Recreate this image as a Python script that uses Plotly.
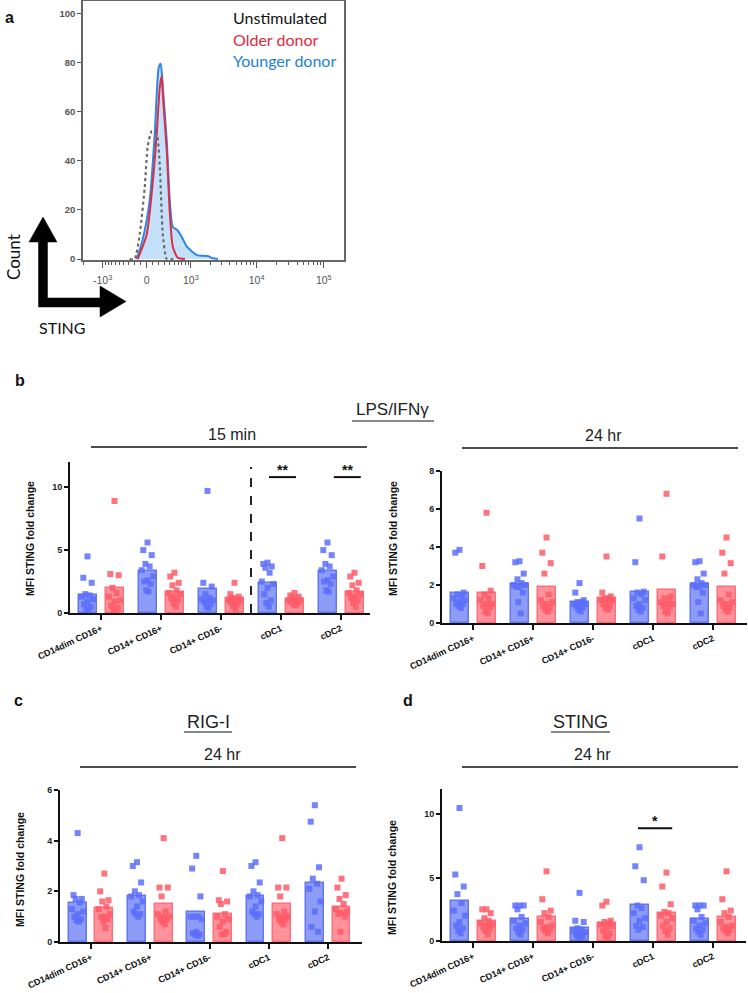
import numpy as np
import plotly.graph_objects as go

W, H = 748, 993

# ---------------- Panel a: STING histogram ----------------
unstim_v = [-286, -196, -112, -32, 16, 80, 162, 214, 268, 344, 515]
unstim_c = [0, 0, 10, 29, 46, 52, 51, 38, 10, 0, 0]
older_v = [-146, 0, 96, 162, 214, 249, 268, 344, 405, 471, 591, 793]
older_c = [0, 10, 31, 51, 70, 74.5, 67, 44, 19, 5, 0.5, 0]
younger_v = [-162, -64, 48, 129, 196, 231, 268, 344, 405, 471, 566, 700, 858, 1249, 1852, 2208, 2636]
younger_c = [0, 8, 24, 51, 78, 79.5, 70, 48, 24, 13, 12, 9, 5, 1.6, 1.2, 0.3, 0]
hist_major = [-1000, 0, 1000, 10000, 100000]
hist_major_text = ["-10<sup>3</sup>", "0", "10<sup>3</sup>", "10<sup>4</sup>", "10<sup>5</sup>"]
hist_minor = ([-k * 100 for k in range(1, 10)] + [k * 100 for k in range(1, 10)]
              + [-2000] + [k * 1000 for k in range(2, 10)] + [k * 10000 for k in range(2, 10)])
hist_xlim = [-2030, 200000]

# ---------------- Bar panels ----------------
categories = ["CD14dim CD16+", "CD14+ CD16+", "CD14+ CD16-", "cDC1", "cDC2"]

# b: LPS/IFNg 15 min
b15_young_mean = [1.45, 3.3, 1.92, 2.37, 3.3]
b15_old_mean = [1.97, 1.66, 1.18, 1.1, 1.66]
b15_young_pts = [
    [4.5, 2.8, 2.4, 1.5, 1.4, 1.3, 1.1, 0.9, 0.7, 0.5, 0.3, 0.2],
    [5.6, 5.0, 4.6, 3.9, 3.7, 3.4, 2.9, 2.6, 2.5, 2.3, 1.8, 1.7],
    [9.7, 2.4, 2.1, 1.5, 1.2, 1.1, 1.0, 1.0, 0.9, 0.7, 0.5, 0.4],
    [4.0, 3.9, 3.7, 3.6, 3.2, 2.5, 2.3, 2.0, 1.5, 1.0, 0.8, 0.5],
    [5.6, 5.0, 4.6, 3.9, 3.7, 3.4, 2.9, 2.6, 2.5, 2.3, 1.8, 1.7],
]
b15_old_pts = [
    [8.9, 3.1, 3.0, 2.0, 1.6, 1.3, 1.0, 0.9, 0.6, 0.4, 0.3, 0.2],
    [3.2, 2.9, 2.4, 2.2, 1.8, 1.6, 1.5, 1.3, 1.2, 1.0, 0.8, 0.5],
    [2.4, 1.5, 1.3, 1.2, 1.1, 1.0, 1.0, 0.9, 0.8, 0.7, 0.5, 0.3],
    [1.6, 1.4, 1.3, 1.2, 1.1, 1.0, 1.0, 0.9, 0.9, 0.8, 0.7, 0.6],
    [3.2, 2.9, 2.4, 2.2, 1.8, 1.6, 1.5, 1.3, 1.2, 1.0, 0.8, 0.5],
]
# b: LPS/IFNg 24 hr
b24_young_mean = [1.6, 2.05, 1.12, 1.65, 2.05]
b24_old_mean = [1.6, 1.9, 1.33, 1.75, 1.9]
b24_young_pts = [
    [3.85, 3.7, 1.6, 1.5, 1.4, 1.3, 1.2, 1.1, 1.0, 1.0, 0.9, 0.8],
    [3.25, 3.2, 2.6, 2.3, 2.1, 2.0, 2.0, 1.9, 1.9, 1.6, 1.1, 0.5],
    [2.1, 1.6, 1.2, 1.1, 1.1, 1.0, 1.0, 0.9, 0.9, 0.8, 0.7, 0.6],
    [5.5, 3.2, 1.65, 1.6, 1.5, 1.3, 1.2, 1.0, 0.9, 0.8, 0.7, 0.6],
    [3.25, 3.2, 2.6, 2.3, 2.1, 2.0, 2.0, 1.9, 1.9, 1.6, 1.1, 0.5],
]
b24_old_pts = [
    [5.8, 3.0, 1.7, 1.5, 1.3, 1.2, 1.0, 1.0, 0.9, 0.8, 0.6, 0.5],
    [4.5, 3.7, 3.15, 2.6, 1.5, 1.2, 1.1, 1.0, 0.9, 0.8, 0.7, 0.6],
    [3.5, 1.6, 1.4, 1.3, 1.3, 1.2, 1.2, 1.1, 1.0, 0.9, 0.8, 0.7],
    [6.8, 3.5, 1.4, 1.3, 1.2, 1.1, 1.0, 1.0, 0.9, 0.8, 0.6, 0.5],
    [4.5, 3.7, 3.15, 2.6, 1.5, 1.2, 1.1, 1.0, 0.9, 0.8, 0.7, 0.6],
]
# c: RIG-I 24 hr
c_young_mean = [1.54, 1.82, 1.18, 1.82, 2.33]
c_old_mean = [1.34, 1.51, 1.12, 1.51, 1.38]
c_young_pts = [
    [4.3, 1.85, 1.7, 1.7, 1.55, 1.3, 1.2, 1.1, 1.0, 0.9, 0.85, 0.8],
    [3.15, 3.0, 2.35, 2.0, 1.85, 1.8, 1.6, 1.4, 1.2, 1.1, 1.1, 1.0],
    [3.4, 2.9, 1.8, 1.0, 1.0, 1.0, 0.9, 0.4, 0.35, 0.3, 0.3, 0.25],
    [3.15, 3.0, 2.35, 2.0, 1.85, 1.8, 1.6, 1.4, 1.2, 1.1, 1.1, 1.0],
    [5.4, 4.75, 2.95, 2.5, 2.3, 2.1, 1.6, 1.2, 0.6, 0.4],
]
c_old_pts = [
    [2.7, 2.0, 1.65, 1.6, 1.4, 1.3, 1.1, 1.0, 1.0, 0.9, 0.8, 0.55],
    [4.1, 2.15, 2.15, 1.8, 1.2, 1.1, 1.0, 1.0, 0.9, 0.9, 0.8, 0.7],
    [2.8, 1.65, 1.6, 1.5, 1.1, 1.0, 0.9, 0.8, 0.6, 0.4, 0.3, 0.3],
    [4.1, 2.15, 2.15, 1.8, 1.2, 1.1, 1.0, 1.0, 0.9, 0.9, 0.8, 0.7],
    [2.5, 2.15, 1.85, 1.7, 1.5, 1.3, 1.2, 1.15, 1.1, 1.0, 0.4],
]
# d: STING 24 hr
d_young_mean = [3.16, 1.74, 1.03, 2.82, 1.74]
d_old_mean = [1.58, 1.87, 1.45, 2.24, 1.87]
d_young_pts = [
    [10.5, 5.25, 4.3, 3.7, 3.0, 2.4, 2.0, 1.5, 1.2, 1.0, 0.8, 0.6],
    [2.8, 2.8, 2.8, 2.5, 1.9, 1.6, 1.4, 1.2, 1.0, 0.9, 0.7, 0.5],
    [3.8, 1.6, 1.5, 1.0, 0.9, 0.8, 0.7, 0.6, 0.5, 0.4, 0.3, 0.3],
    [7.4, 5.9, 4.8, 2.8, 2.6, 2.2, 1.8, 1.6, 1.2, 1.1, 0.9],
    [2.8, 2.8, 2.8, 2.5, 1.9, 1.6, 1.4, 1.2, 1.0, 0.9, 0.7, 0.5],
]
d_old_pts = [
    [2.5, 2.5, 2.2, 1.8, 1.6, 1.4, 1.3, 1.2, 1.1, 1.0, 0.8, 0.5],
    [5.5, 3.3, 2.4, 2.2, 1.9, 1.5, 1.2, 1.1, 1.0, 0.9, 0.8, 0.6],
    [3.1, 2.8, 1.6, 1.5, 1.4, 1.3, 1.2, 1.0, 0.8, 0.6, 0.4, 0.3],
    [5.4, 4.3, 2.9, 2.3, 2.2, 2.0, 1.8, 1.5, 1.2, 1.0, 0.8, 0.5],
    [5.5, 3.3, 2.4, 2.2, 1.9, 1.5, 1.2, 1.1, 1.0, 0.9, 0.8, 0.6],
]

# ---------------- style ----------------
FONT = "Liberation Sans, Arial, sans-serif"
GILL = "Lato, Open Sans, sans-serif"
BLUE_FILL, BLUE_EDGE, BLUE_PT = "#8d9cf6", "#6476f0", "#5b6ffb"
RED_FILL, RED_EDGE, RED_PT = "#ff929a", "#ff6f7b", "#ff5a69"
OFF = 0.225
BW = 0.3
JIT = [0.0, -0.07, 0.07, -0.035, 0.035, -0.095, 0.095, 0.0, -0.055, 0.055, -0.02, 0.02]


def px(x):
    return x / W


def py(y):
    return 1 - y / H


def T(v):
    return np.arcsinh(np.asarray(v, dtype=float) / 463.0)


fig = go.Figure()

# ---- panel a traces
fig.add_trace(go.Scatter(x=T(younger_v), y=younger_c, mode="lines", line=dict(color="#2c86e4", width=2, shape="spline", smoothing=0.6),
                         fill="tozeroy", fillcolor="rgba(150,200,245,0.55)", xaxis="x", yaxis="y", showlegend=False))
fig.add_trace(go.Scatter(x=T(older_v), y=older_c, mode="lines", line=dict(color="#d9304a", width=2, shape="spline", smoothing=0.6),
                         xaxis="x", yaxis="y", showlegend=False))
fig.add_trace(go.Scatter(x=T(unstim_v), y=unstim_c, mode="lines", line=dict(color="#6a6a6a", width=2.2, dash="dot", shape="spline", smoothing=0.5),
                         xaxis="x", yaxis="y", showlegend=False))

# ---- bar panels
panels = [
    ("2", b15_young_mean, b15_old_mean, b15_young_pts, b15_old_pts),
    ("3", b24_young_mean, b24_old_mean, b24_young_pts, b24_old_pts),
    ("4", c_young_mean, c_old_mean, c_young_pts, c_old_pts),
    ("5", d_young_mean, d_old_mean, d_young_pts, d_old_pts),
]
idx = list(range(len(categories)))
for ax, ym, om, yp, op in panels:
    fig.add_trace(go.Bar(x=[i - OFF for i in idx], y=ym, width=BW, marker=dict(color=BLUE_FILL, line=dict(color=BLUE_EDGE, width=1.5)),
                         xaxis="x" + ax, yaxis="y" + ax, showlegend=False))
    fig.add_trace(go.Bar(x=[i + OFF for i in idx], y=om, width=BW, marker=dict(color=RED_FILL, line=dict(color=RED_EDGE, width=1.5)),
                         xaxis="x" + ax, yaxis="y" + ax, showlegend=False))
    for pts, sgn, col in ((yp, -1, BLUE_PT), (op, 1, RED_PT)):
        xs, ys = [], []
        for i, grp in enumerate(pts):
            for k, v in enumerate(grp):
                xs.append(i + sgn * OFF + JIT[k % len(JIT)])
                ys.append(v)
        fig.add_trace(go.Scatter(x=xs, y=ys, mode="markers", marker=dict(symbol="square", size=6, color=col, opacity=0.85),
                                 xaxis="x" + ax, yaxis="y" + ax, showlegend=False, cliponaxis=False))

# ---- axes
lay = dict(width=W, height=H, margin=dict(l=0, r=0, t=0, b=0, autoexpand=False), paper_bgcolor="white", plot_bgcolor="white",
           font=dict(family=FONT, color="#111"), bargap=0, barmode="overlay")

lay["xaxis"] = dict(domain=[px(83), px(344)], range=[float(T(hist_xlim[0])), float(T(hist_xlim[1]))], anchor="y",
                    tickmode="array", tickvals=list(T(hist_major)), ticktext=hist_major_text, automargin=False,
                    ticks="outside", ticklen=6, tickwidth=1.2, tickcolor="#555", ticklabelstandoff=4,
                    minor=dict(tickmode="array", tickvals=list(T(hist_minor)), ticks="outside", ticklen=3, tickwidth=1, tickcolor="#555"),
                    showline=True, linecolor="#666", linewidth=1.5, mirror=True, showgrid=False, zeroline=False,
                    tickfont=dict(size=10.5, color="#555", family=FONT))
lay["yaxis"] = dict(domain=[py(260), py(1)], range=[-0.4, 105], anchor="x", tickvals=[0, 20, 40, 60, 80, 100], automargin=False,
                    ticks="outside", ticklen=4, tickwidth=1.2, tickcolor="#555",
                    showline=True, linecolor="#666", linewidth=1.5, mirror=True, showgrid=False, zeroline=False,
                    tickfont=dict(size=9.5, color="#555", family=FONT, weight="bold"))

bar_specs = {
    "2": dict(xd=[70, 370], yd=[613, 462], yr=[0, 12], yt=[0, 5, 10], c0=101, sp=60),
    "3": dict(xd=[442, 747], yd=[623, 471], yr=[0, 8], yt=[0, 2, 4, 6, 8], c0=473, sp=60),
    "4": dict(xd=[60, 362], yd=[942, 790], yr=[0, 6], yt=[0, 2, 4, 6], c0=91, sp=59.3),
    "5": dict(xd=[442, 746], yd=[941, 789], yr=[0, 12], yt=[0, 5, 10], c0=473, sp=60),
}
for ax, s in bar_specs.items():
    xr = [(s["xd"][0] - s["c0"]) / s["sp"], (s["xd"][1] - s["c0"]) / s["sp"]]
    lay["xaxis" + ax] = dict(domain=[px(s["xd"][0]), px(s["xd"][1])], range=xr, anchor="y" + ax, automargin=False,
                             tickmode="array", tickvals=idx, ticktext=categories, tickangle=-25,
                             ticks="outside", ticklen=5, tickwidth=2, tickcolor="#111",
                             showline=True, linecolor="#111", linewidth=2, showgrid=False, zeroline=False,
                             tickfont=dict(size=9, family=FONT, weight="bold", color="#111"))
    lay["yaxis" + ax] = dict(domain=[py(s["yd"][0]), py(s["yd"][1])], range=s["yr"], anchor="x" + ax, automargin=False,
                             tickvals=s["yt"], ticks="outside", ticklen=4, tickwidth=2, tickcolor="#111",
                             showline=True, linecolor="#111", linewidth=2, showgrid=False, zeroline=False,
                             tickfont=dict(size=9, family=FONT, weight="bold", color="#222"))

shapes = []
annos = []


def hline(x0, x1, y, w=1.6):
    shapes.append(dict(type="line", xref="paper", yref="paper", x0=px(x0), x1=px(x1), y0=py(y), y1=py(y),
                       line=dict(color="#111", width=w)))


def text(x, y, s, size, color="#111", bold=False, family=FONT, angle=0, xanchor="center"):
    annos.append(dict(x=px(x), y=py(y), xref="paper", yref="paper", text=("<b>%s</b>" % s) if bold else s,
                      showarrow=False, textangle=angle, xanchor=xanchor, yanchor="middle",
                      font=dict(size=size, color=color, family=family)))


# arrow (Count / STING)
pts = [(38.5, 307), (38.5, 242), (29, 242), (43, 217), (57, 242), (47.5, 242), (47.5, 298), (100, 298),
       (100, 286), (126, 301.5), (100, 317), (100, 307)]
path = "M " + " L ".join("%.5f %.5f" % (px(a), py(b)) for a, b in pts) + " Z"
shapes.append(dict(type="path", xref="paper", yref="paper", path=path, fillcolor="#000", line=dict(color="#000", width=0.5)))
text(13, 257, "Count", 17, family=GILL, angle=-90)
text(62, 327, "STING", 16, family=GILL)

# legend of panel a
text(231, 18, "Unstimulated", 16, color="#111", family=GILL, xanchor="left")
text(231, 39, "Older donor", 16, color="#e0283c", family=GILL, xanchor="left")
text(231, 60, "Younger donor", 16, color="#1e7fd8", family=GILL, xanchor="left")

# panel letters
text(9, 17, "a", 16, bold=True)
text(20, 380, "b", 16, bold=True)
text(18, 700, "c", 16, bold=True)
text(408, 700, "d", 16, bold=True)

# headers
text(392, 410, "LPS/IFNγ", 17, color="#222")
hline(352, 434, 421, 1.2)
text(232, 434, "15 min", 16, color="#222")
hline(91, 367, 447)
text(603, 435, "24 hr", 16, color="#222")
hline(462, 738, 448)
text(208, 722, "RIG-I", 18, color="#222")
hline(184, 232, 732, 1.2)
text(222, 754, "24 hr", 16, color="#222")
hline(80, 356, 767)
text(580, 722, "STING", 18, color="#222")
hline(551, 610, 732, 1.2)
text(592, 754, "24 hr", 16, color="#222")
hline(462, 738, 767)

# y titles
text(30, 539, "MFI STING fold change", 10.5, bold=True, angle=-90)
text(393, 539, "MFI STING fold change", 10.5, bold=True, angle=-90)
text(20, 870, "MFI STING fold change", 10.5, bold=True, angle=-90)
text(392, 878, "MFI STING fold change", 10.5, bold=True, angle=-90)

# dashed separator and significance marks
shapes.append(dict(type="line", xref="x2", yref="y2", x0=2.5, x1=2.5, y0=0, y1=11.6, line=dict(color="#222", width=2, dash="dash")))
for (ax, x0, x1, y, star) in [("2", 2.8, 3.25, 10.8, "**"), ("2", 3.88, 4.33, 10.8, "**"), ("5", 2.75, 3.32, 8.9, "*")]:
    shapes.append(dict(type="line", xref="x" + ax, yref="y" + ax, x0=x0, x1=x1, y0=y, y1=y, line=dict(color="#111", width=2)))
    annos.append(dict(x=(x0 + x1) / 2, y=y, xref="x" + ax, yref="y" + ax, text="<b>%s</b>" % star, showarrow=False,
                      yanchor="bottom", yshift=-3, font=dict(size=14, color="#111", family=FONT)))

lay["shapes"] = shapes
lay["annotations"] = annos
fig.update_layout(**lay)

fig.write_html("out.html", config={"displayModeBar": False}, post_script="document.body.style.margin='0px';")
